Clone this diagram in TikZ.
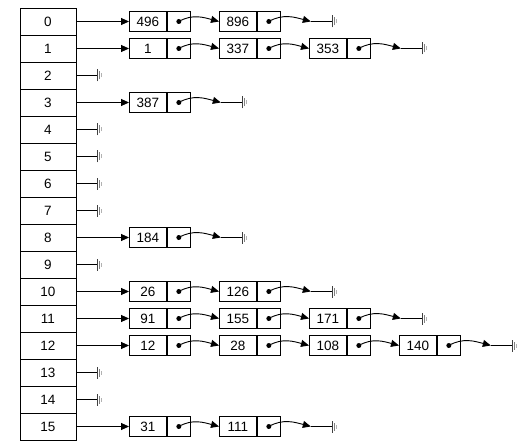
\documentclass[tikz,border=0pt]{standalone}
\usepackage{fontspec}
\setmainfont{Liberation Sans}
\usetikzlibrary{arrows.meta,positioning}

\tikzset{
  cella/.style={draw, minimum width=56pt, minimum height=27pt, inner sep=0pt, font=\fontsize{13.5}{15}\selectfont},
  chiave/.style={draw, minimum width=37pt, minimum height=20pt, inner sep=0pt, anchor=west, font=\fontsize{13.5}{15}\selectfont},
  puntatore/.style={draw, minimum width=23pt, minimum height=20pt, inner sep=0pt},
  freccia/.style={-{Triangle[length=8pt,width=7pt]}},
  legame/.style={freccia, out=30, in=165}
}

% Massa (puntatore nullo)
\newcommand{\massa}[1]{%
  \draw[line width=1.3pt, black!75] ([yshift=-6pt]#1) -- ([yshift=6pt]#1);
  \draw[line width=1.2pt, gray] ([xshift=2pt,yshift=-4pt]#1) -- ([xshift=2pt,yshift=4pt]#1);
  \draw[line width=1.2pt, gray!60] ([xshift=3.8pt,yshift=-2pt]#1) -- ([xshift=3.8pt,yshift=2pt]#1);
}

% Lista collegata alla riga #1
\newcommand{\riga}[2]{%
  \foreach \v [count=\k] in {#2} {
    \node[chiave] (k#1-\k) at ({129+90*(\k-1)}, {21.5+27*#1}) {\v};
    \node[puntatore, right=0pt of k#1-\k] (p#1-\k) {};
    \fill (p#1-\k.center) circle (2.5pt);
    \ifnum\k=1
      \draw[freccia] (h#1.east) -- (k#1-\k.west);
    \else
      \pgfmathtruncatemacro{\prec}{\k-1}
      \draw[legame] (p#1-\prec.center) to (k#1-\k.west);
    \fi
    \xdef\ultimo{\k}
  }
  \coordinate[right=30pt of p#1-\ultimo] (n#1);
  \coordinate[right=22pt of n#1] (g#1);
  \draw[legame] (p#1-\ultimo.center) to (n#1);
  \draw (n#1) -- (g#1);
  \massa{g#1}
}

% Riga vuota #1
\newcommand{\vuota}[1]{%
  \coordinate[right=21pt of h#1] (g#1);
  \draw (h#1.east) -- (g#1);
  \massa{g#1}
}

\begin{document}
\begin{tikzpicture}[x=1pt, y=-1pt, line width=0.9pt]
    \useasboundingbox (0,0) rectangle (531,444);

    % Tabella
    \foreach \i in {0,...,15}
        \node[cella] (h\i) at (48, {21.5+27*\i}) {\i};

    % Liste
    \riga{0}{496,896}
    \riga{1}{1,337,353}
    \vuota{2}
    \riga{3}{387}
    \vuota{4}
    \vuota{5}
    \vuota{6}
    \vuota{7}
    \riga{8}{184}
    \vuota{9}
    \riga{10}{26,126}
    \riga{11}{91,155,171}
    \riga{12}{12,28,108,140}
    \vuota{13}
    \vuota{14}
    \riga{15}{31,111}

\end{tikzpicture}
\end{document}
